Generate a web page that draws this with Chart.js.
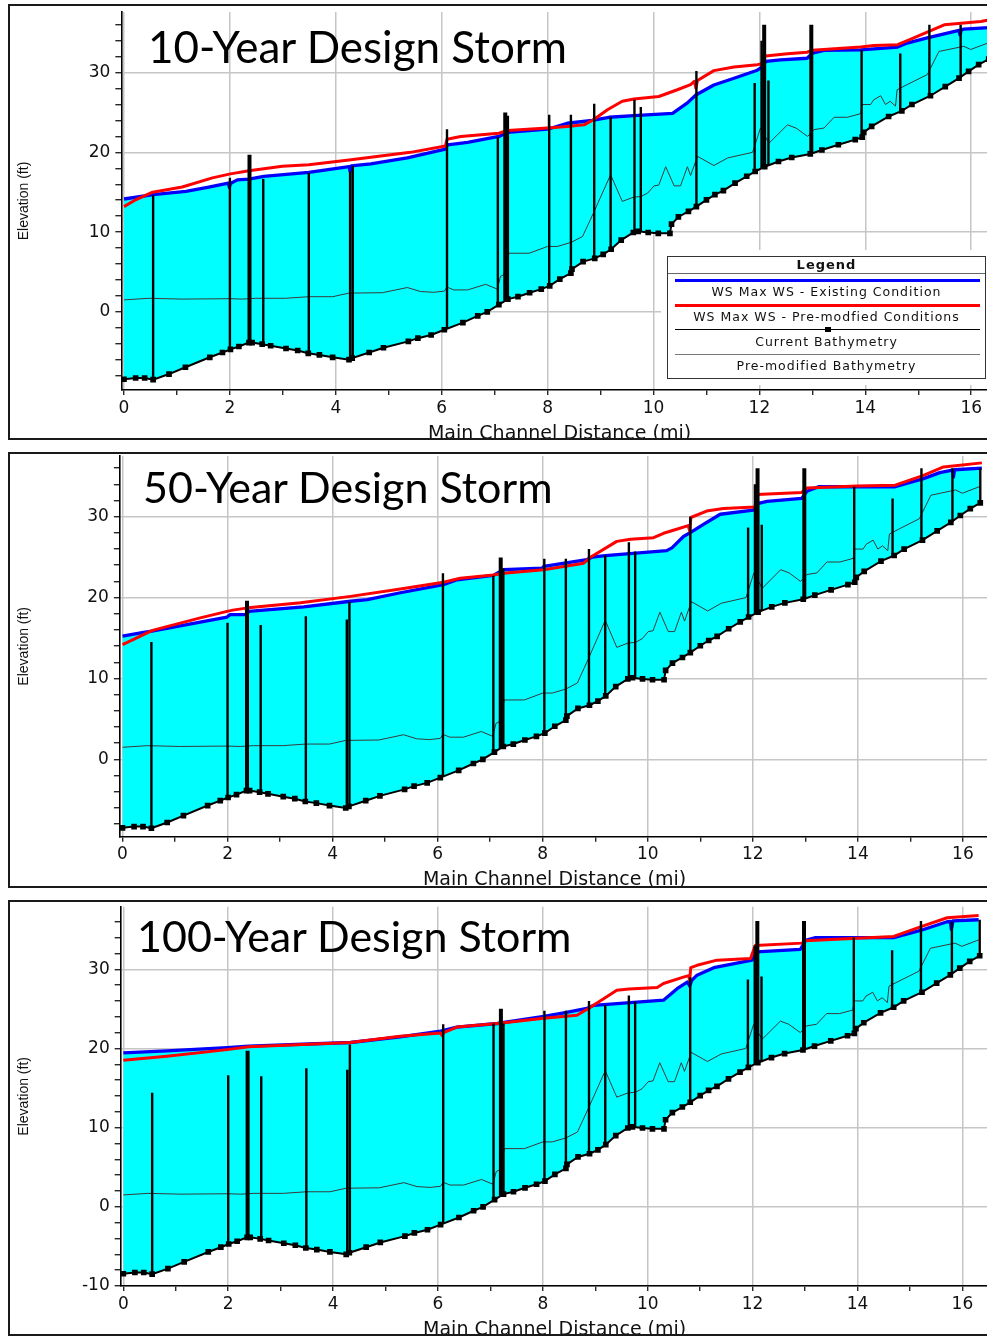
<!DOCTYPE html>
<html>
<head>
<meta charset="utf-8">
<title>Main channel water surface profiles</title>
<script src="https://cdn.jsdelivr.net/npm/chart.js"></script>
<style>
  html, body { margin: 0; padding: 0; background: #fff; overflow: hidden; width: 987px; height: 1337px; }
  .panel { position: absolute; left: 8px; width: 1000px; height: 432px; border: 2px solid #1a1a1a; overflow: hidden; background: #fff; }
  .panel canvas { position: absolute; left: -10px; top: -2px; }
  .storm { position: absolute; font-family: Lato, "Open Sans", sans-serif; color: #000; white-space: nowrap; line-height: 1.2; }
  .legend { position: absolute; box-sizing: border-box; background: #fff; border: 1.5px solid #333; box-shadow: 0 0 0 6px #fff; font-family: "DejaVu Sans", sans-serif; color: #111; }
  .legend .head { position: absolute; left: 0; right: 0; top: 0; height: 16px; line-height: 16px; text-align: center; font-weight: bold; font-size: 13px; letter-spacing: 1px; }
  .legend .rule { position: absolute; left: 0; right: 0; top: 16px; border-top: 1px solid #666; }
  .legend .swatch { position: absolute; left: 7px; right: 5px; height: 0; }
  .legend .mark { position: absolute; left: 50%; width: 6px; height: 5px; margin-left: -3px; background: #000; }
  .legend .label { position: absolute; left: 0; right: 0; height: 16px; line-height: 16px; text-align: center; font-size: 12.5px; letter-spacing: 1px; white-space: nowrap; }
</style>
</head>
<body>

<div class="panel" id="panel10" style="top:4px">
  <canvas id="chart10" width="1010" height="444"></canvas>
  <div class="storm" style="left:138px; top:14px; font-size:44px">10-Year Design Storm</div>
  <div class="legend" id="legend10" style="left:657px; top:250px; width:319px; height:123px"></div>
</div>

<div class="panel" id="panel50" style="top:452px">
  <canvas id="chart50" width="1010" height="444"></canvas>
  <div class="storm" style="left:133px; top:7px; font-size:43px">50-Year Design Storm</div>
</div>

<div class="panel" id="panel100" style="top:900px">
  <canvas id="chart100" width="1010" height="444"></canvas>
  <div class="storm" style="left:127px; top:8px; font-size:43px">100-Year Design Storm</div>
</div>

<script>
// ---------------------------------------------------------------
// Profile data: [main channel distance (mi), elevation (ft)]
// ---------------------------------------------------------------

// Current channel bed (thalweg)
const bedCurrent = [
  [0,-8.45],[0.22,-8.3],[0.39,-8.3],[0.55,-8.5],[0.85,-7.8],[1.16,-6.95],[1.62,-5.7],[1.86,-5.1],
  [2.01,-4.7],[2.17,-4.35],[2.36,-3.85],[2.42,-3.85],[2.61,-4.05],[2.77,-4.25],[3.06,-4.6],[3.28,-4.85],
  [3.48,-5.2],[3.69,-5.4],[3.94,-5.7],[4.25,-6.0],[4.31,-5.8],[4.63,-5.1],[4.9,-4.5],[5.37,-3.7],
  [5.55,-3.3],[5.8,-2.9],[6.05,-2.25],[6.4,-1.35],[6.68,-0.5],[6.86,0.0],[7.08,0.9],[7.25,1.6],
  [7.44,1.9],[7.66,2.4],[7.88,2.85],[8.04,3.25],[8.23,4.1],[8.44,4.85],[8.46,5.35],[8.67,6.3],
  [8.89,6.7],[9.05,7.2],[9.2,7.85],[9.39,9.0],[9.62,9.95],[9.71,10.1],[9.9,9.95],[10.09,9.85],
  [10.31,9.85],[10.34,11.0],[10.47,11.9],[10.66,12.6],[10.81,13.2],[11.0,14.05],[11.16,14.7],[11.32,15.2],
  [11.54,16.15],[11.76,17.0],[11.92,17.6],[12.1,18.2],[12.36,18.85],[12.61,19.35],[12.96,19.8],[13.18,20.3],
  [13.49,20.95],[13.81,21.6],[13.94,21.9],[13.97,22.5],[14.12,23.25],[14.44,24.5],[14.69,25.2],[14.88,26.0],
  [15.23,27.1],[15.51,28.25],[15.77,29.3],[15.95,30.15],[16.14,31.0],[16.33,31.7]
];

// Channel bed before modification
const bedPreModified = [
  [0,1.5],[0.47,1.7],[1.1,1.6],[2.0,1.65],[2.24,1.6],[2.49,1.7],[3.05,1.7],[3.49,1.9],[3.94,1.9],
  [4.25,2.35],[4.88,2.4],[5.35,3.05],[5.6,2.55],[5.85,2.45],[6.05,2.6],[6.1,3.1],[6.23,2.75],[6.49,2.75],
  [6.83,3.45],[7.05,2.85],[7.11,4.45],[7.17,4.65],[7.27,7.35],[7.65,7.35],[8.0,8.2],[8.18,8.2],[8.44,8.7],
  [8.66,9.45],[8.88,12.6],[9.19,17.2],[9.41,13.85],[9.63,14.4],[9.76,14.45],[9.89,14.9],[10.01,15.8],
  [10.1,15.9],[10.23,18.2],[10.39,15.8],[10.51,15.8],[10.64,18.2],[10.7,17.1],[10.83,19.5],[11.14,18.35],
  [11.4,19.3],[11.87,20.0],[12.02,23.05],[12.18,21.15],[12.53,23.45],[12.69,23.05],[12.91,22.0],[13.03,22.85],
  [13.22,23.05],[13.41,24.4],[13.66,24.4],[13.91,24.85],[13.94,26.0],[14.1,26.0],[14.16,26.6],[14.29,27.1],
  [14.38,26.0],[14.47,26.4],[14.57,25.8],[14.6,27.85],[14.79,28.5],[15.17,29.75],[15.39,32.65],[15.86,33.3],
  [15.99,32.9],[16.31,33.7]
];

// 10-year maximum water surface
const ws10Existing = [
  [0,14.15],[0.55,14.7],[1.17,15.1],[1.6,15.65],[1.97,16.15],[1.99,15.6],[2.01,16.1],[2.14,16.55],
  [2.36,16.65],[2.64,17.0],[3.49,17.5],[4.25,18.2],[4.27,17.6],[4.29,18.3],[4.66,18.55],[5.35,19.3],
  [6.07,20.4],[6.11,20.95],[6.49,21.25],[7.08,22.0],[7.24,22.5],[8.0,22.9],[8.37,23.65],[8.84,24.0],
  [9.16,24.4],[9.63,24.6],[10.36,24.9],[10.64,26.2],[10.8,27.2],[11.14,28.45],[11.52,29.3],[11.96,30.3],
  [12.06,30.75],[12.12,31.4],[12.4,31.6],[12.9,31.8],[13.0,32.45],[13.22,32.8],[13.91,32.85],[14.61,33.2],
  [14.79,33.7],[15.17,34.35],[15.77,35.3],[15.79,34.7],[15.81,35.35],[15.86,35.45],[16.33,35.65]
];
const ws10PreModified = [
  [0,13.2],[0.22,14.05],[0.54,15.0],[1.1,15.65],[1.67,16.8],[2.01,17.3],[2.36,17.7],[2.99,18.25],
  [3.49,18.45],[4.25,19.05],[5.41,20.0],[6.07,20.8],[6.1,21.65],[6.36,22.0],[7.08,22.4],[7.24,22.75],
  [8.0,23.05],[8.37,23.25],[8.69,23.45],[8.88,24.15],[9.13,25.35],[9.41,26.4],[9.63,26.7],[10.1,27.0],
  [10.45,27.85],[10.7,28.5],[10.77,28.9],[10.8,28.05],[10.83,29.0],[11.14,30.25],[11.52,30.7],[11.96,31.0],
  [12.05,31.1],[12.07,32.05],[12.53,32.35],[12.9,32.55],[13.0,32.8],[13.91,33.2],[14.16,33.4],[14.61,33.5],
  [14.86,34.2],[15.49,36.0],[16.18,36.4],[16.33,36.6]
];

// 50-year maximum water surface
const ws50Existing = [
  [0,15.25],[0.4,15.7],[0.56,15.85],[1.99,17.6],[2.05,17.9],[2.37,17.9],[2.4,18.3],[3.45,18.85],
  [4.34,19.55],[4.66,19.75],[5.29,20.6],[6.11,21.6],[6.37,22.2],[7.06,22.75],[7.25,23.45],[7.99,23.65],
  [8.02,23.85],[8.84,24.7],[8.94,25.0],[9.19,25.2],[10.36,25.8],[10.46,26.15],[10.68,27.55],[10.84,28.15],
  [11.06,29.05],[11.38,30.3],[12.01,30.8],[12.11,31.65],[12.27,31.9],[12.93,32.25],[13.03,33.15],[13.25,33.7],
  [14.71,33.7],[15.25,34.7],[15.56,35.45],[15.8,35.75],[15.82,34.9],[15.84,35.8],[16.36,36.0]
];
const ws50PreModified = [
  [0,14.2],[0.28,15.05],[0.57,15.95],[1.48,17.5],[1.99,18.3],[2.1,18.45],[2.35,18.7],[2.37,18.0],
  [2.39,18.75],[3.39,19.35],[4.34,20.15],[5.29,21.05],[6.11,21.9],[6.43,22.4],[7.06,22.8],[7.25,23.0],
  [8.02,23.45],[8.78,24.25],[8.9,24.95],[9.41,26.95],[9.67,27.2],[10.11,27.4],[10.3,27.95],[10.55,28.45],
  [10.77,28.9],[10.8,28.2],[10.82,29.9],[11.12,30.7],[11.44,31.0],[12.04,31.2],[12.08,32.75],[12.93,33.0],
  [13.03,33.55],[13.98,33.8],[14.71,33.9],[15.25,35.1],[15.63,36.15],[16.36,36.65]
];

// 100-year maximum water surface
const ws100Existing = [
  [0,19.45],[0.83,19.7],[1.98,20.1],[2.39,20.3],[4.33,20.75],[5.28,21.45],[6.05,22.2],[6.36,22.7],
  [7.13,23.15],[8.02,24.05],[8.4,24.5],[8.84,25.05],[8.97,25.45],[10.3,26.1],[10.56,27.55],[10.76,28.4],
  [10.8,27.9],[10.84,28.6],[10.94,29.25],[11.26,30.2],[11.99,31.15],[12.08,32.2],[12.91,32.5],[13.01,33.65],
  [13.2,34.0],[14.69,34.0],[15.2,34.9],[15.71,36.0],[15.77,36.05],[15.79,35.0],[15.82,36.1],[16.31,36.25]
];
const ws100PreModified = [
  [0,18.5],[0.83,19.0],[1.98,19.85],[2.39,20.2],[4.33,20.75],[5.28,21.55],[6.05,21.95],[6.08,21.6],
  [6.11,22.0],[6.36,22.7],[7.13,23.15],[8.02,23.8],[8.65,24.2],[8.87,25.05],[9.41,27.35],[9.64,27.5],
  [10.18,27.7],[10.3,28.2],[10.68,29.0],[10.78,29.2],[10.8,28.6],[10.82,30.2],[10.94,30.5],[11.32,31.15],
  [11.96,31.35],[12.05,33.0],[12.94,33.3],[13.01,33.6],[14.69,34.15],[15.2,35.35],[15.71,36.5],[16.31,36.8]
];

// Structures crossing the channel: station (mi), base and top elevation (ft)
const structStations = [0.55,2.00,2.63,3.49,4.27,4.32,6.10,7.06,7.25,8.03,8.44,8.88,9.19,9.64,9.76,10.81,11.91,12.04,12.17,13.93,14.66,15.21,15.80,16.33];
const structBase     = [-8.5,-4.7,-4.05,-5.2,-6.0,-5.8,-2.1,0.85,1.6,3.25,4.9,6.7,7.85,9.95,10.1,13.2,17.55,18.0,18.4,21.9,25.1,27.0,29.35,31.7];
const structTop10    = [14.6,16.8,16.65,17.4,17.6,18.3,22.9,21.9,24.6,24.7,24.7,26.1,24.4,26.6,25.7,30.2,28.7,34.0,29.0,32.8,32.4,36.0,36.0,35.65];
const structTop50    = [14.5,16.9,16.6,17.7,17.3,19.45,23.0,22.7,23.6,24.8,24.8,26.0,25.2,26.85,25.7,30.0,28.65,34.0,29.0,33.7,32.25,36.0,36.0,36.0];
const structTop100   = [14.4,16.6,16.5,17.5,17.3,20.5,23.05,23.15,23.15,24.75,24.75,26.0,25.45,26.7,25.9,29.0,28.7,33.0,29.1,34.0,32.4,36.1,36.0,36.25];

// Bridge crossings (heavier structures)
const bridgeStations = [2.37,7.20,12.09,12.98];
const bridgeBase     = [-3.85,1.4,18.15,19.8];
const bridgeTop10    = [19.7,25.0,36.0,36.0];
const bridgeTop50    = [19.6,24.95,36.0,36.0];
const bridgeTop100   = [19.7,25.0,36.1,36.1];

// Labelled tick values
const distanceLabels  = [0,2,4,6,8,10,12,14,16];
const elevationLabels = [-10,0,10,20,30];

// Series names
const seriesNames = [
  'WS  Max WS - Existing Condition',
  'WS  Max WS - Pre-modfied Conditions',
  'Current Bathymetry',
  'Pre-modified Bathymetry'
];

// ---------------------------------------------------------------
// Chart construction
// ---------------------------------------------------------------
const toPoints = pairs => pairs.map(([x, y]) => ({x, y}));

// vertical segments separated by gaps
function uprights(stations, base, tops) {
  const out = [];
  stations.forEach((s, i) => {
    out.push({x: s, y: base[i]}, {x: s, y: tops[i]}, {x: s, y: null});
  });
  return out;
}

const storms = [
  { canvas: 'chart10', existing: ws10Existing, pre: ws10PreModified, tops: structTop10, bridgeTops: bridgeTop10,
    frame: { left: 121.35, top: 8, right: 997.7, bottom: 386, xMin: -0.05, xMax: 16.5, yMin: -9.8, yMax: 37.6, titlePad: 2.7 } },
  { canvas: 'chart50', existing: ws50Existing, pre: ws50PreModified, tops: structTop50, bridgeTops: bridgeTop50,
    frame: { left: 119.9, top: 3, right: 989.2, bottom: 384.7, xMin: -0.05, xMax: 16.5, yMin: -9.55, yMax: 37.5, titlePad: 4.4 } },
  { canvas: 'chart100', existing: ws100Existing, pre: ws100PreModified, tops: structTop100, bridgeTops: bridgeTop100,
    frame: { left: 120.7, top: 6.7, right: 988.6, bottom: 386, xMin: -0.05, xMax: 16.5, yMin: -10, yMax: 37.9, titlePad: 2.2 } }
];

const tickFont = { family: '"DejaVu Sans", sans-serif', size: 17 };
const GRID = '#c6c6c6';
const CLEAR = 'rgba(0,0,0,0)';

const charts = storms.map(storm => {
  const f = storm.frame;
  const canvas = document.getElementById(storm.canvas);
  const W = canvas.width, H = canvas.height;
  return new Chart(canvas, {
    type: 'line',
    data: {
      datasets: [
        { label: seriesNames[0], data: toPoints(storm.existing), borderColor: '#0000ff', borderWidth: 3.3,
          borderJoinStyle: 'round', pointRadius: 0, fill: { target: 2 }, backgroundColor: '#00ffff', order: 4 },
        { label: seriesNames[1], data: toPoints(storm.pre), borderColor: '#ff0000', borderWidth: 3,
          borderJoinStyle: 'round', pointRadius: 0, fill: false, order: 3 },
        { label: seriesNames[2], data: toPoints(bedCurrent), borderColor: '#000', borderWidth: 2,
          pointStyle: 'rect', pointRadius: 4, pointBackgroundColor: '#000', pointBorderWidth: 0, fill: false, order: 0 },
        { label: seriesNames[3], data: toPoints(bedPreModified), borderColor: '#3a3a3a', borderWidth: 1,
          pointRadius: 0, fill: false, order: 5 },
        { label: 'Structures', data: uprights(structStations, structBase, storm.tops), borderColor: '#000',
          borderWidth: 2.4, pointRadius: 0, fill: false, spanGaps: false, order: 2 },
        { label: 'Bridges', data: uprights(bridgeStations, bridgeBase, storm.bridgeTops), borderColor: '#000',
          borderWidth: 4, pointRadius: 0, fill: false, spanGaps: false, order: 1 }
      ]
    },
    options: {
      responsive: false,
      animation: false,
      events: [],
      devicePixelRatio: 1,
      layout: { padding: { left: 0, top: f.top, right: W - f.right, bottom: 0 } },
      plugins: {
        legend: { display: false },
        tooltip: { enabled: false },
        filler: { drawTime: 'beforeDatasetsDraw' }
      },
      scales: {
        x: {
          type: 'linear', min: f.xMin, max: f.xMax,
          afterFit: s => { s.height = H - f.bottom; s.paddingLeft = 0; s.paddingRight = 0; },
          ticks: {
            stepSize: 1, includeBounds: false, autoSkip: false, maxRotation: 0, minRotation: 0,
            padding: 3, color: '#111', font: tickFont,
            callback: v => distanceLabels.includes(v) ? String(v) : ''
          },
          grid: {
            color: c => (c.tick && distanceLabels.includes(c.tick.value)) ? GRID : CLEAR,
            lineWidth: 1.5, drawTicks: true, tickLength: 5, tickColor: '#000', tickWidth: 1.2
          },
          border: { display: true, color: '#000', width: 1.6 },
          title: {
            display: true, text: 'Main Channel Distance (mi)', color: '#111',
            font: { family: '"DejaVu Sans", sans-serif', size: 19 },
            padding: { top: 0, bottom: f.titlePad }
          }
        },
        y: {
          type: 'linear', min: f.yMin, max: f.yMax,
          afterFit: s => { s.width = f.left; s.paddingTop = 0; s.paddingBottom = 0; },
          ticks: {
            stepSize: 2, includeBounds: false, autoSkip: false, padding: 5, color: '#111', font: tickFont,
            callback: v => elevationLabels.includes(v) ? String(v) : ''
          },
          grid: {
            color: c => (c.tick && elevationLabels.includes(c.tick.value)) ? GRID : CLEAR,
            lineWidth: 1.5, drawTicks: true, tickLength: 6, tickColor: '#000', tickWidth: 1.2
          },
          border: { display: true, color: '#000', width: 1.6 },
          title: {
            display: true, text: 'Elevation (ft)', color: '#111',
            font: { family: '"Liberation Sans", Arial, sans-serif', size: 14 },
            padding: { top: 15.6, bottom: 0 }
          }
        }
      }
    }
  });
});

// Legend box for the top panel, built from the series of its chart
(function buildLegend() {
  const box = document.getElementById('legend10');
  const ds = charts[0].data.datasets;
  const head = document.createElement('div');
  head.className = 'head';
  head.textContent = 'Legend';
  box.appendChild(head);
  const rule = document.createElement('div');
  rule.className = 'rule';
  box.appendChild(rule);
  [0, 1, 2, 3].forEach((k, i) => {
    const d = ds[k];
    const lineY = 23.5 + 24.7 * i;
    const sw = document.createElement('div');
    sw.className = 'swatch';
    sw.style.top = (lineY - d.borderWidth / 2) + 'px';
    sw.style.borderTop = (k === 2 ? 1 : Math.max(1, d.borderWidth)) + 'px solid ' + (k === 3 ? '#777' : d.borderColor);
    if (d.pointStyle === 'rect') {
      const m = document.createElement('div');
      m.className = 'mark';
      m.style.top = '-3px';
      sw.appendChild(m);
    }
    box.appendChild(sw);
    const lab = document.createElement('div');
    lab.className = 'label';
    lab.style.top = (35.2 + 24.7 * i - 8) + 'px';
    lab.textContent = d.label;
    box.appendChild(lab);
  });
})();
</script>
</body>
</html>
